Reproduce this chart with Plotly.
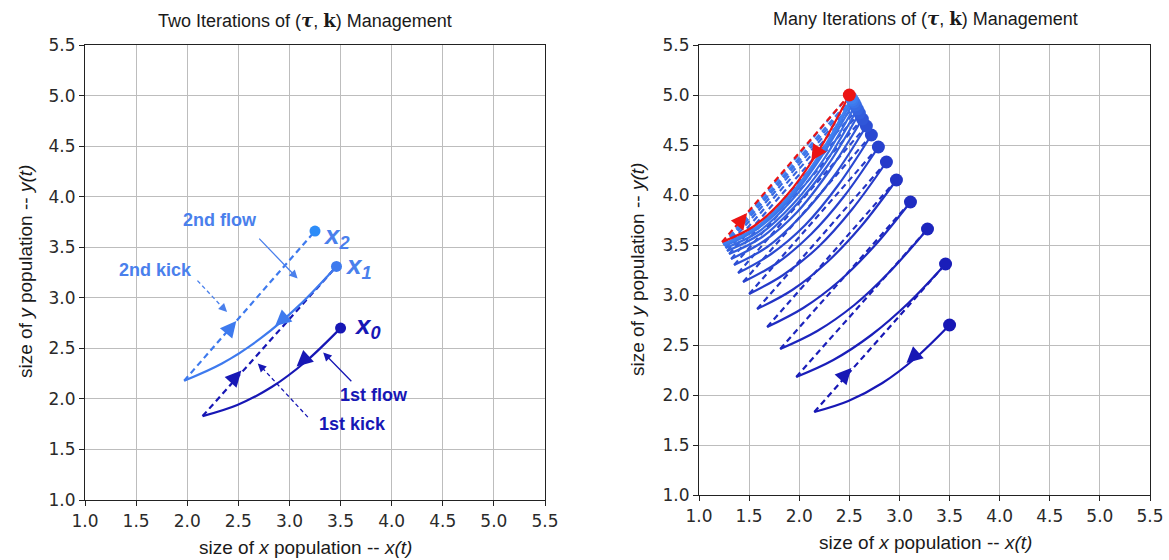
import plotly.graph_objects as go

# ---------------- data ----------------
# Left panel: two iterations. Each flow is a solid curve from x_n down to its turning point.
left_flow_x = [[3.50, 3.16, 2.83, 2.49, 2.15],
               [3.46, 3.09, 2.72, 2.34, 1.97]]
left_flow_y = [[2.70, 2.37, 2.12, 1.94, 1.83],
               [3.31, 2.92, 2.60, 2.35, 2.18]]
left_dot_x = [3.50, 3.46, 3.25]
left_dot_y = [2.70, 3.31, 3.66]
left_dot_names = ["0", "1", "2"]

# Right panel: many iterations (last one = red limit cycle)
right_flow_x = [
    [3.50, 3.16, 2.83, 2.49, 2.15],
    [3.46, 3.09, 2.72, 2.34, 1.97],
    [3.28, 2.91, 2.55, 2.18, 1.81],
    [3.11, 2.75, 2.40, 2.04, 1.68],
    [2.97, 2.62, 2.28, 1.93, 1.58],
    [2.87, 2.53, 2.19, 1.84, 1.50],
    [2.79, 2.45, 2.12, 1.78, 1.44],
    [2.72, 2.39, 2.06, 1.72, 1.39],
    [2.67, 2.34, 2.01, 1.68, 1.35],
    [2.63, 2.30, 1.98, 1.65, 1.32],
    [2.60, 2.28, 1.95, 1.63, 1.30],
    [2.58, 2.26, 1.93, 1.61, 1.28],
    [2.56, 2.24, 1.91, 1.59, 1.265],
    [2.545, 2.22, 1.90, 1.58, 1.255],
    [2.53, 2.21, 1.89, 1.57, 1.245],
    [2.52, 2.20, 1.88, 1.56, 1.24],
    [2.50, 2.18, 1.87, 1.55, 1.23],
]
right_flow_y = [
    [2.70, 2.37, 2.12, 1.94, 1.83],
    [3.31, 2.92, 2.60, 2.35, 2.18],
    [3.66, 3.24, 2.90, 2.64, 2.46],
    [3.93, 3.49, 3.14, 2.87, 2.68],
    [4.15, 3.69, 3.33, 3.05, 2.86],
    [4.33, 3.86, 3.48, 3.20, 3.01],
    [4.48, 3.99, 3.61, 3.32, 3.13],
    [4.60, 4.10, 3.70, 3.41, 3.22],
    [4.69, 4.18, 3.78, 3.48, 3.30],
    [4.76, 4.24, 3.83, 3.54, 3.36],
    [4.82, 4.29, 3.88, 3.58, 3.41],
    [4.86, 4.32, 3.90, 3.61, 3.44],
    [4.90, 4.35, 3.93, 3.63, 3.47],
    [4.93, 4.38, 3.95, 3.66, 3.49],
    [4.95, 4.39, 3.96, 3.66, 3.50],
    [4.97, 4.40, 3.97, 3.67, 3.51],
    [5.00, 4.42, 3.99, 3.69, 3.53],
]

tick_vals = [1.0, 1.5, 2.0, 2.5, 3.0, 3.5, 4.0, 4.5, 5.0, 5.5]

# ---------------- styling ----------------
DARK = (23, 23, 181)
LIGHT = (64, 128, 240)
RED = "rgb(235,20,20)"
DASH = "6px,4px"
SANS = "Liberation Sans, Arial, sans-serif"


def mix(t):
    return "rgb(%d,%d,%d)" % tuple(round(a + (b - a) * t) for a, b in zip(DARK, LIGHT))


C_DARK = mix(0)
C_LIGHT = "rgb(62,122,238)"
C_X2 = "rgb(45,140,248)"
C_TXT2 = "rgb(74,128,236)"

fig = go.Figure()


def line(x, y, color, xa, ya, dash=None, width=2.2, spline=False):
    fig.add_trace(go.Scatter(
        x=x, y=y, mode="lines", xaxis=xa, yaxis=ya, hoverinfo="skip",
        line=dict(color=color, width=width, dash=dash,
                  shape="spline" if spline else "linear", smoothing=1.0)))


def dot(x, y, color, xa, ya, size):
    fig.add_trace(go.Scatter(
        x=[x], y=[y], mode="markers", xaxis=xa, yaxis=ya, hoverinfo="skip",
        marker=dict(color=color, size=size, line=dict(width=0))))


annotations = []


def head(xt, yt, xs, ys, color, xr, yr, size=1.6, width=2.0):
    annotations.append(dict(
        x=xt, y=yt, ax=xs, ay=ys, xref=xr, yref=yr, axref=xr, ayref=yr,
        text="", showarrow=True, arrowhead=2, arrowsize=size, arrowwidth=width,
        arrowcolor=color, standoff=0, startstandoff=0))


# ---------------- left panel ----------------
left_colors = [C_DARK, C_LIGHT]
for i in range(2):
    line(left_flow_x[i], left_flow_y[i], left_colors[i], "x", "y", spline=True)
    line([left_flow_x[i][-1], left_dot_x[i + 1]],
         [left_flow_y[i][-1], left_dot_y[i + 1]], left_colors[i], "x", "y", dash=DASH)
dot_colors = [C_DARK, C_LIGHT, C_X2]
for i in range(3):
    dot(left_dot_x[i], left_dot_y[i], dot_colors[i], "x", "y", 11)

# arrowheads on the left curves
head(3.07, 2.32, 3.17, 2.41, C_DARK, "x", "y")
head(2.53, 2.28, 2.43, 2.17, C_DARK, "x", "y")
head(2.86, 2.72, 2.96, 2.81, C_LIGHT, "x", "y")
head(2.48, 2.77, 2.39, 2.66, C_LIGHT, "x", "y")


def label(text, x, y, color, xr="x", yr="y", size=18, xanchor="center"):
    annotations.append(dict(x=x, y=y, xref=xr, yref=yr, text=text, showarrow=False,
                            xanchor=xanchor, yanchor="middle",
                            font=dict(family=SANS, size=size, color=color)))


label("<b>2nd flow</b>", 2.32, 3.77, C_TXT2)
label("<b>2nd kick</b>", 1.69, 3.27, C_TXT2)
label("<b>1st flow</b>", 3.83, 2.04, C_DARK)
label("<b>1st kick</b>", 3.62, 1.75, C_DARK)

# solid pointers
head(3.08, 3.19, 2.69, 3.60, C_TXT2, "x", "y", size=1.3, width=1.3)
head(3.33, 2.46, 3.62, 2.16, C_DARK, "x", "y", size=1.3, width=1.3)
# dashed pointers
line([2.10, 2.35], [3.17, 2.90], C_TXT2, "x", "y", dash="4px,3px", width=1.3)
head(2.39, 2.86, 2.33, 2.92, C_TXT2, "x", "y", size=1.3, width=1.3)
line([3.18, 2.74], [1.82, 2.30], C_DARK, "x", "y", dash="4px,3px", width=1.3)
head(2.69, 2.35, 2.76, 2.28, C_DARK, "x", "y", size=1.3, width=1.3)

# x_n labels
xlab_pos = [(3.61, 2.72, C_DARK), (3.52, 3.31, C_TXT2), (3.31, 3.61, C_TXT2)]
for (lx, ly, lc), nm in zip(xlab_pos, left_dot_names):
    label("<b><i>x</i></b><sub><b><i>%s</i></b></sub>" % nm, lx, ly, lc,
          size=26, xanchor="left")

# ---------------- right panel ----------------
n = len(right_flow_x)
for i in range(n):
    last = i == n - 1
    col = RED if last else mix(i / (n - 2))
    line(right_flow_x[i], right_flow_y[i], col, "x2", "y2", spline=True)
    if last:
        tx, ty = right_flow_x[i][0], right_flow_y[i][0]
    else:
        tx, ty = right_flow_x[i + 1][0], right_flow_y[i + 1][0]
    line([right_flow_x[i][-1], tx], [right_flow_y[i][-1], ty], col, "x2", "y2", dash=DASH)
for i in range(n):
    last = i == n - 1
    col = RED if last else mix(i / (n - 2))
    dot(right_flow_x[i][0], right_flow_y[i][0], col, "x2", "y2", 13)

head(3.07, 2.32, 3.17, 2.41, C_DARK, "x2", "y2")
head(2.52, 2.27, 2.42, 2.16, C_DARK, "x2", "y2")
head(2.12, 4.34, 2.19, 4.45, RED, "x2", "y2")
head(1.48, 3.82, 1.40, 3.72, RED, "x2", "y2")

# ---------------- titles / axis titles ----------------
TAU = "<span style='font-family:DejaVu Serif'><b><i>τ</i></b></span>"
KB = "<span style='font-family:DejaVu Serif'><b>k</b></span>"


def ptext(text, x, y, size=18, angle=0):
    annotations.append(dict(x=x, y=y, xref="paper", yref="paper", text=text,
                            showarrow=False, xanchor="center", yanchor="middle",
                            textangle=angle, font=dict(family=SANS, size=size, color="#1a1a1a")))


ptext("Two Iterations of (%s, %s) Management" % (TAU, KB), 305 / 1169, 1 - 21 / 560)
ptext("Many Iterations of (%s, %s) Management" % (TAU, KB), 925 / 1169, 1 - 19 / 560)
XT = "size of <i>x</i> population -- <i>x(t)</i>"
YT = "size of <i>y</i> population -- <i>y(t)</i>"
ptext(XT, 305 / 1169, 1 - 547 / 560, size=19)
ptext(XT, 925 / 1169, 1 - 542 / 560, size=19)
ptext(YT, 25 / 1169, 1 - 272 / 560, size=19, angle=-90)
ptext(YT, 637 / 1169, 1 - 270 / 560, size=19, angle=-90)

axis_common = dict(
    range=[1.0, 5.5], tickvals=tick_vals, ticktext=["%.1f" % v for v in tick_vals],
    showgrid=True, gridcolor="#bdbdbd", gridwidth=1,
    showline=True, mirror=True, linecolor="#222222", linewidth=1.2,
    ticks="outside", ticklen=5, tickwidth=1.2, tickcolor="#222222",
    tickfont=dict(family="DejaVu Sans", size=17, color="#2a2a2a"),
    zeroline=False, fixedrange=True, automargin=False,
)

fig.update_layout(
    width=1169, height=560, autosize=False,
    margin=dict(l=0, r=0, t=0, b=0, autoexpand=False),
    paper_bgcolor="white", plot_bgcolor="white",
    showlegend=False,
    xaxis=dict(domain=[85 / 1169, 545 / 1169], anchor="y", **axis_common),
    yaxis=dict(domain=[1 - 500 / 560, 1 - 45 / 560], anchor="x", **axis_common),
    xaxis2=dict(domain=[699 / 1169, 1150 / 1169], anchor="y2", **axis_common),
    yaxis2=dict(domain=[1 - 495 / 560, 1 - 45 / 560], anchor="x2", **axis_common),
    annotations=annotations,
)

fig.write_html("out.html")
